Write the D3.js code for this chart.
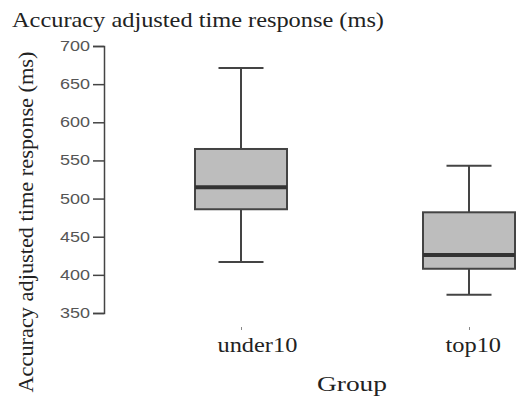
<!DOCTYPE html>
<html>
<head>
<meta charset="utf-8">
<script src="https://cdn.jsdelivr.net/npm/d3@7"></script>
<style>
  html, body { margin: 0; padding: 0; background: #fff; }
  svg { display: block; }
</style>
</head>
<body>
<svg id="chart" width="517" height="398"></svg>
<script>
// ---- data ----
const groups = ["under10", "top10"];
const whiskerLow  = [417, 374];
const q1          = [486, 408];
const median      = [515, 426];
const q3          = [565, 482];
const whiskerHigh = [671, 543];
const yTicks = [350, 400, 450, 500, 550, 600, 650, 700];
const title = "Accuracy adjusted time response (ms)";
const yLabel = "Accuracy adjusted time response (ms)";
const xLabel = "Group";

const boxes = groups.map((g, i) => ({
  group: g, lo: whiskerLow[i], q1: q1[i], med: median[i], q3: q3[i], hi: whiskerHigh[i]
}));

const svg = d3.select("#chart");
const serif = "'Liberation Serif', 'Times New Roman', serif";
const sans = "'Liberation Sans', Arial, sans-serif";

const y = d3.scaleLinear().domain([350, 700]).range([313, 46]);
const x = d3.scalePoint().domain(groups).range([241, 469]);
const boxW = 92, capW = 45;
const stroke = "#444";
const stretch = 1.16; // horizontal stretch of the reference text

// title
svg.append("text")
  .attr("x", 12).attr("y", 27)
  .attr("font-family", serif).attr("font-size", 21).attr("fill", "#222")
  .attr("textLength", 372).attr("lengthAdjust", "spacingAndGlyphs")
  .text(title);

// y axis
const yAxis = svg.append("g")
  .attr("transform", "translate(104,0)")
  .call(d3.axisLeft(y).tickValues(yTicks).tickSize(11).tickSizeOuter(11).tickPadding(3));
yAxis.selectAll("path, line").attr("stroke", stroke).attr("stroke-width", 1.5);
yAxis.selectAll("text")
  .attr("font-family", sans).attr("font-size", 14).attr("fill", "#555")
  .attr("textLength", 30).attr("lengthAdjust", "spacingAndGlyphs");

// y label
svg.append("text")
  .attr("transform", "translate(33,222) rotate(-90)")
  .attr("text-anchor", "middle")
  .attr("font-family", serif).attr("font-size", 21).attr("fill", "#222")
  .attr("textLength", 341).attr("lengthAdjust", "spacingAndGlyphs")
  .text(yLabel);

// x axis (tiny ticks, no domain line)
const xAxis = svg.append("g")
  .attr("transform", "translate(0,327)")
  .call(d3.axisBottom(x).tickSize(3).tickPadding(22));
xAxis.select(".domain").remove();
xAxis.selectAll("line").attr("stroke", "#888").attr("stroke-width", 1);
xAxis.selectAll("text")
  .attr("font-family", serif).attr("font-size", 21).attr("fill", "#222")
  .attr("text-anchor", "start").attr("dx", -24).attr("dy", 0)
  .attr("y", 25)
  .each(function () {
    const w = this.getComputedTextLength();
    d3.select(this).attr("textLength", w * stretch).attr("lengthAdjust", "spacingAndGlyphs");
  });

// x label
svg.append("text")
  .attr("x", 352).attr("y", 391)
  .attr("text-anchor", "middle")
  .attr("font-family", serif).attr("font-size", 22).attr("fill", "#222")
  .attr("textLength", 70).attr("lengthAdjust", "spacingAndGlyphs")
  .text(xLabel);

// boxes
const g = svg.append("g").selectAll("g").data(boxes).join("g");

// whiskers
g.append("line")
  .attr("x1", d => x(d.group)).attr("x2", d => x(d.group))
  .attr("y1", d => y(d.hi)).attr("y2", d => y(d.q3))
  .attr("stroke", stroke).attr("stroke-width", 2);
g.append("line")
  .attr("x1", d => x(d.group)).attr("x2", d => x(d.group))
  .attr("y1", d => y(d.q1)).attr("y2", d => y(d.lo))
  .attr("stroke", stroke).attr("stroke-width", 2);
// caps
g.append("line")
  .attr("x1", d => x(d.group) - capW / 2).attr("x2", d => x(d.group) + capW / 2)
  .attr("y1", d => y(d.hi)).attr("y2", d => y(d.hi))
  .attr("stroke", stroke).attr("stroke-width", 2);
g.append("line")
  .attr("x1", d => x(d.group) - capW / 2).attr("x2", d => x(d.group) + capW / 2)
  .attr("y1", d => y(d.lo)).attr("y2", d => y(d.lo))
  .attr("stroke", stroke).attr("stroke-width", 2);
// box
g.append("rect")
  .attr("x", d => x(d.group) - boxW / 2).attr("width", boxW)
  .attr("y", d => y(d.q3)).attr("height", d => y(d.q1) - y(d.q3))
  .attr("fill", "#bdbdbd").attr("stroke", stroke).attr("stroke-width", 2);
// median
g.append("line")
  .attr("x1", d => x(d.group) - boxW / 2).attr("x2", d => x(d.group) + boxW / 2)
  .attr("y1", d => y(d.med)).attr("y2", d => y(d.med))
  .attr("stroke", "#333").attr("stroke-width", 4);
</script>
</body>
</html>
